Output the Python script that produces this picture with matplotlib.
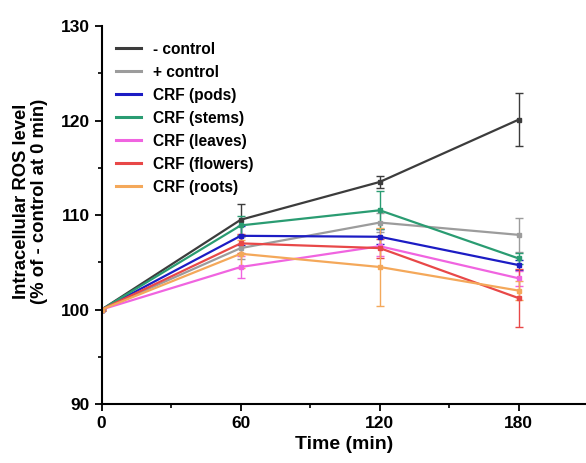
import numpy as np
import matplotlib.pyplot as plt
from matplotlib.lines import Line2D
from matplotlib.ticker import MultipleLocator

plt.rcParams['font.family'] = ['Liberation Sans', 'DejaVu Sans']

# tempos (min)
tempo = [0, 60, 120, 180]

# series: media e erro (% do controle negativo em 0 min)
nomes = ['- control', '+ control', 'CRF (pods)', 'CRF (stems)',
         'CRF (leaves)', 'CRF (flowers)', 'CRF (roots)']
cores = ['#3c3c3c', '#9c9c9c', '#1c1cc4', '#2a9c72',
         '#f064e0', '#e84848', '#f4a85a']

ctrl_neg = [100, 109.5, 113.5, 120.1]
ctrl_neg_err = [0, 1.7, 0.6, 2.8]
ctrl_pos = [100, 106.5, 109.2, 107.9]
ctrl_pos_err = [0, 1.2, 1.0, 1.8]
pods = [100, 107.8, 107.7, 104.7]
pods_err = [0, 1.0, 0.8, 0.5]
stems = [100, 108.9, 110.5, 105.4]
stems_err = [0, 1.0, 2.0, 0.6]
leaves = [100, 104.5, 106.7, 103.3]
leaves_err = [0, 1.2, 1.0, 0.8]
flowers = [100, 107.0, 106.5, 101.2]
flowers_err = [0, 1.0, 1.0, 3.1]
roots = [100, 105.9, 104.5, 102.0]
roots_err = [0, 1.5, 4.1, 1.0]

medias = [ctrl_neg, ctrl_pos, pods, stems, leaves, flowers, roots]
erros = [ctrl_neg_err, ctrl_pos_err, pods_err, stems_err, leaves_err, flowers_err, roots_err]

fig = plt.figure(figsize=(5.86, 4.63), dpi=100)
ax = fig.add_axes([0.1735, 0.1274, 0.8265, 0.8164])

for nome, cor, y, e in zip(nomes, cores, medias, erros):
    ax.errorbar(tempo, y, yerr=e, color=cor, lw=1.6, marker='s', ms=3,
                capsize=3, elinewidth=1.0, capthick=1.0)

ax.set_xlim(0, 209)
ax.set_ylim(90, 130)
ax.set_xticks([0, 60, 120, 180])
ax.set_yticks([90, 100, 110, 120, 130])
ax.xaxis.set_minor_locator(MultipleLocator(30))
ax.yaxis.set_minor_locator(MultipleLocator(5))
ax.spines['top'].set_visible(False)
ax.spines['right'].set_visible(False)
for s in ['left', 'bottom']:
    ax.spines[s].set_linewidth(1.5)
ax.tick_params(which='major', length=5, width=1.3, labelsize=12.5)
ax.tick_params(which='minor', length=3, width=1.2)
for lab in ax.get_xticklabels() + ax.get_yticklabels():
    lab.set_fontweight('bold')

ax.set_xlabel('Time (min)', fontsize=14, fontweight='bold', labelpad=4)
ax.set_ylabel('Intracellular ROS level\n(% of - control at 0 min)', fontsize=13.3,
              fontweight='bold', linespacing=1.05)
ax.yaxis.set_label_coords(-0.111, 0.535)

# legenda so com linhas
handles = [Line2D([], [], color=c, lw=2.2) for c in cores]
leg = ax.legend(handles, nomes, loc='upper left', bbox_to_anchor=(0.0, 0.995),
                frameon=False, fontsize=11.2, handlelength=1.65, handletextpad=0.75,
                labelspacing=0.51)
for t in leg.get_texts():
    t.set_fontweight('bold')

fig.savefig('out.png', dpi=100)
